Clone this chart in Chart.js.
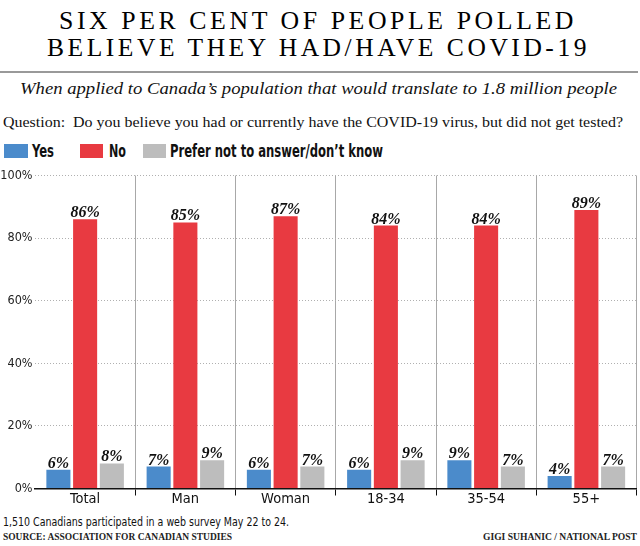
<!DOCTYPE html>
<html>
<head>
<meta charset="utf-8">
<script src="https://cdn.jsdelivr.net/npm/chart.js@4.4.1/dist/chart.umd.min.js"></script>
<style>
  body { margin: 0; background: #fff; width: 640px; height: 546px; position: relative; overflow: hidden; color: #111; }
  .t { position: absolute; white-space: nowrap; transform-origin: 0 0; }
  .title { font-family: 'Liberation Serif', serif; font-size: 26px; line-height: 26px; letter-spacing: 3.6px; color: #000; }
  .sub { font-family: 'Liberation Serif', serif; font-style: italic; font-size: 17px; line-height: 17px; }
  .q { font-family: 'Liberation Serif', serif; font-size: 15.5px; line-height: 15.5px; }
  .leg { font-family: 'Liberation Sans Narrow', 'DejaVu Sans Condensed', sans-serif; font-weight: bold; font-size: 17.5px; line-height: 17.5px; }
  .note { font-family: 'Liberation Sans Narrow', 'DejaVu Sans Condensed', sans-serif; font-size: 13px; line-height: 13px; }
  .src { font-family: 'Liberation Serif', serif; font-weight: bold; font-size: 10.5px; line-height: 10.5px; color: #222; }
  .box { position: absolute; top: 144px; height: 14px; }
  #rule { position: absolute; left: 0; top: 71px; width: 638px; height: 2px; background: #999; }
  #wrap { position: absolute; left: 0; top: 160px; width: 640px; height: 345px; }
</style>
</head>
<body>
<div class="t title" data-x="59" data-w="518" style="top:8.4px">SIX PER CENT OF PEOPLE POLLED</div>
<div class="t title" data-x="47" data-w="543" style="top:35.4px">BELIEVE THEY HAD/HAVE COVID-19</div>
<div id="rule"></div>
<div class="t sub" data-x="20" data-w="597" style="top:80.1px">When applied to Canada’s population that would translate to 1.8 million people</div>
<div class="t q" data-x="3" data-w="620" style="top:114px">Question:&nbsp; Do you believe you had or currently have the COVID-19 virus, but did not get tested?</div>

<div class="box" style="left:4px;width:24px;background:#4b8bcb"></div>
<div class="t leg" data-x="32" data-w="22" style="top:142.9px">Yes</div>
<div class="box" style="left:80px;width:23px;background:#e83a41"></div>
<div class="t leg" data-x="109" data-w="17" style="top:142.9px">No</div>
<div class="box" style="left:143px;width:23px;background:#bdbdbd"></div>
<div class="t leg" data-x="170" data-w="213" style="top:142.9px">Prefer not to answer/don’t know</div>

<div id="wrap"><canvas id="chart" width="640" height="345"></canvas></div>

<div class="t note" data-x="3" data-w="286" style="top:515px">1,510 Canadians participated in a web survey May 22 to 24.</div>
<div class="t src" data-x="3" data-w="229" style="top:532.2px">SOURCE: ASSOCIATION FOR CANADIAN STUDIES</div>
<div class="t src" data-x="483" data-w="154" style="top:532.2px">GIGI SUHANIC / NATIONAL POST</div>

<script>
const categories = ["Total", "Man", "Woman", "18-34", "35-54", "55+"];
const yesValues = [6, 7, 6, 6, 9, 4];
const noValues = [86, 85, 87, 84, 84, 89];
const unsureValues = [8, 9, 7, 9, 7, 7];
const yTicks = [0, 20, 40, 60, 80, 100];

// stretch each text line to the width it has in the picture
function fitText() {
  document.querySelectorAll(".t").forEach(el => {
    el.style.left = el.dataset.x + "px";
    const w = el.getBoundingClientRect().width;
    el.style.transform = "scaleX(" + (parseFloat(el.dataset.w) / w) + ")";
  });
}

const valueLabels = {
  id: "valueLabels",
  afterDatasetsDraw(chart) {
    const ctx = chart.ctx;
    ctx.save();
    ctx.font = "italic bold 16px 'Liberation Serif', serif";
    ctx.fillStyle = "#111";
    ctx.textAlign = "center";
    ctx.textBaseline = "alphabetic";
    chart.data.datasets.forEach((ds, i) => {
      chart.getDatasetMeta(i).data.forEach((bar, j) => {
        ctx.fillText(ds.data[j] + "%", bar.x, bar.y - 2);
      });
    });
    ctx.restore();
  }
};

const narrow = "'Liberation Sans Narrow', 'DejaVu Sans Condensed', sans-serif";

function draw() {
  fitText();
  new Chart(document.getElementById("chart").getContext("2d"), {
    type: "bar",
    data: {
      labels: categories,
      datasets: [
        { label: "Yes", data: yesValues, backgroundColor: "#4b8bcb" },
        { label: "No", data: noValues, backgroundColor: "#e83a41" },
        { label: "Prefer not to answer/don't know", data: unsureValues, backgroundColor: "#bdbdbd" }
      ]
    },
    options: {
      responsive: false,
      animation: false,
      devicePixelRatio: 1,
      categoryPercentage: 0.8,
      barPercentage: 0.9,
      layout: { padding: { top: 15.5, right: 3.5, bottom: 0, left: 0 } },
      plugins: {
        legend: { display: false },
        tooltip: { enabled: false }
      },
      scales: {
        x: {
          afterFit: s => { s.height = 16.5; },
          grid: {
            offset: true,
            lineWidth: 1,
            tickLength: 7,
            color: c => (c.index === 0 || c.index === categories.length) ? "rgba(0,0,0,0)" : "#a8a8a8",
            tickColor: c => (c.index === 0 || c.index === categories.length) ? "rgba(0,0,0,0)" : "#111"
          },
          border: { display: true, color: "#111", width: 1.5 },
          ticks: {
            padding: -4.5,
            color: "#111",
            font: { family: narrow, size: 14.5 }
          }
        },
        y: {
          min: 0,
          max: 100,
          afterFit: s => { s.width = 35; },
          afterBuildTicks: s => { s.ticks = yTicks.map(v => ({ value: v })); },
          grid: {
            drawTicks: false,
            lineWidth: 1,
            color: c => c.tick && c.tick.value === 0 ? "rgba(0,0,0,0)" : "#b0b0b0"
          },
          border: { display: false, dash: [1, 2] },
          ticks: {
            padding: 2.5,
            color: "#222",
            font: { family: narrow, size: 12.5 },
            callback: v => v + "%"
          }
        }
      }
    },
    plugins: [valueLabels]
  });
}

if (document.fonts && document.fonts.ready) {
  document.fonts.ready.then(draw);
} else {
  draw();
}
</script>
</body>
</html>
